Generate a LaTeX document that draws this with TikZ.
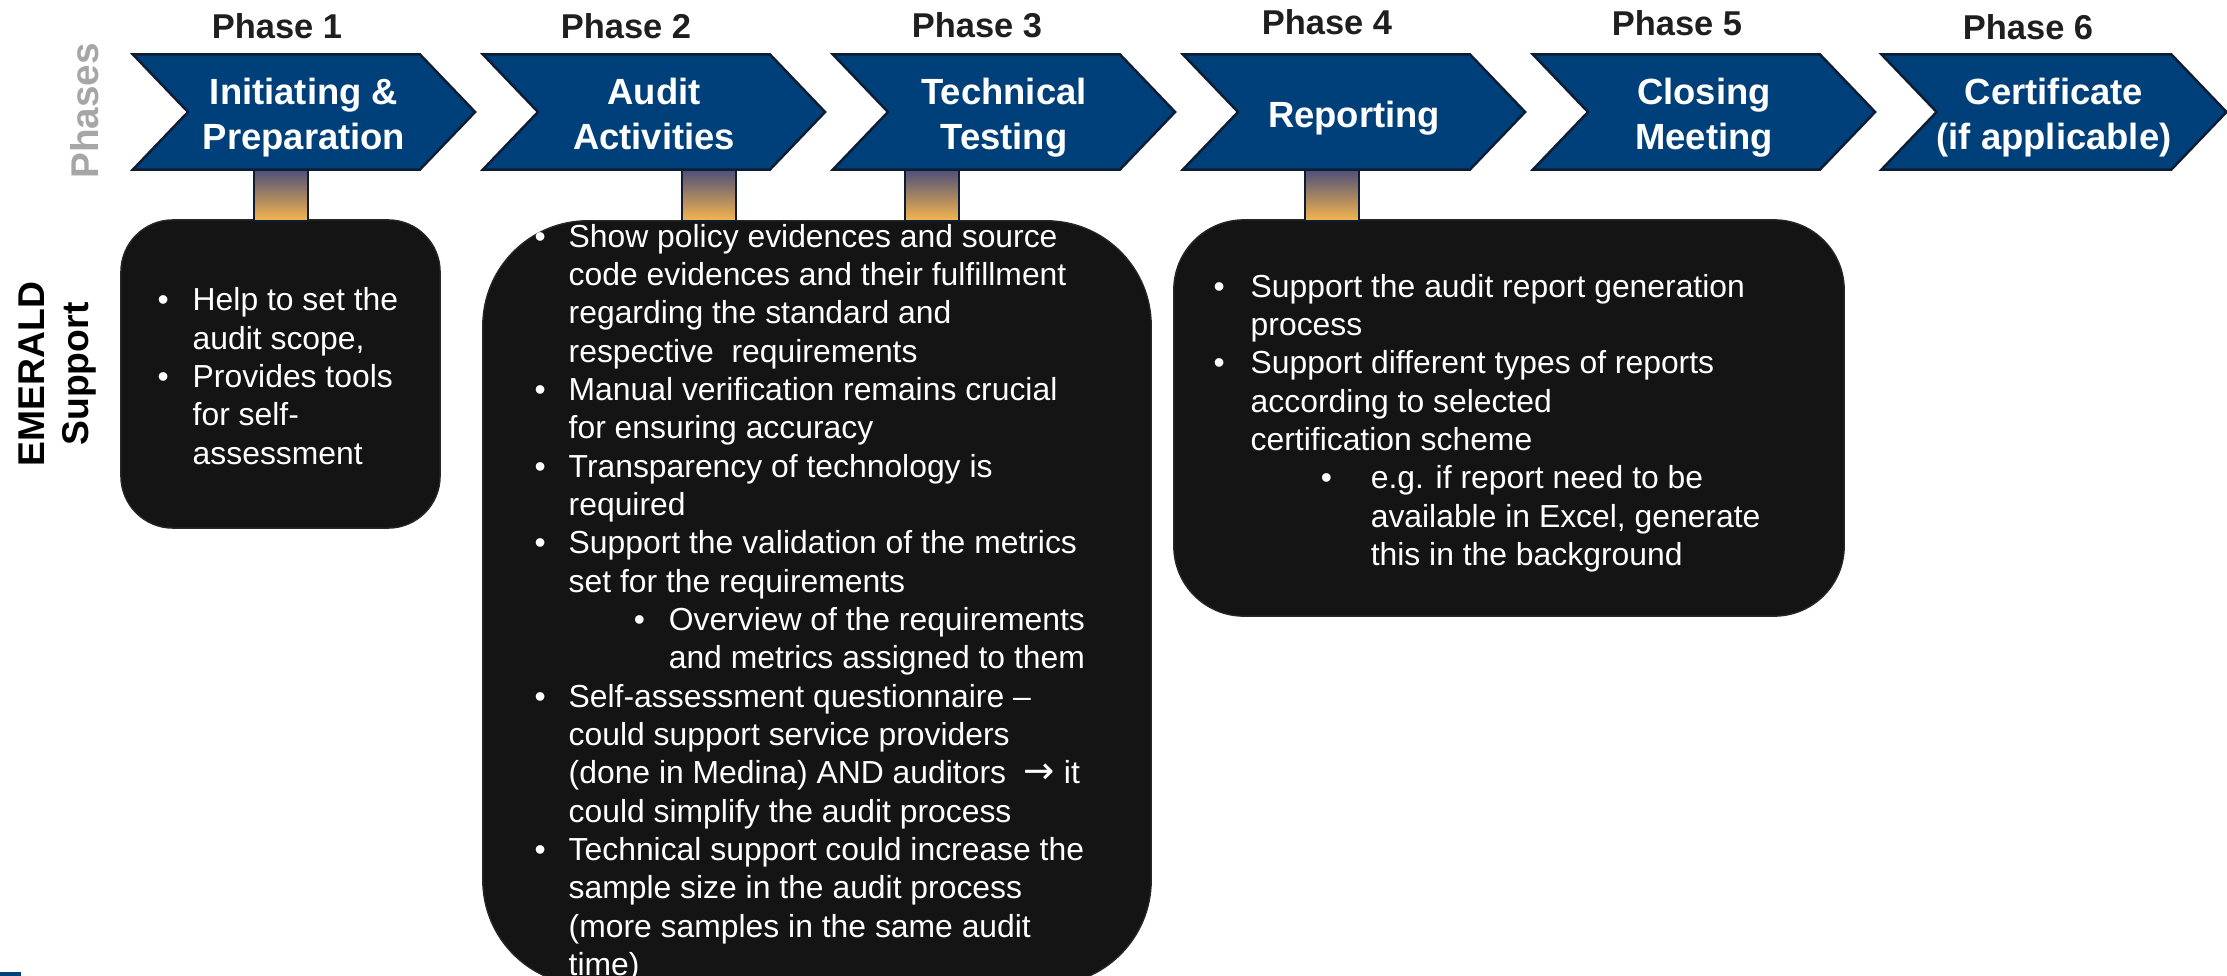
\documentclass[tikz,border=0pt]{standalone}
\usepackage{fontspec}
\setmainfont{Liberation Sans}
\newfontfamily\arrowfont{DejaVu Sans}
\usetikzlibrary{shapes.symbols,positioning}

\definecolor{phaseblue}{RGB}{0,64,122}
\definecolor{phaseedge}{RGB}{14,28,52}
\definecolor{poletop}{RGB}{76,78,122}
\definecolor{polebottom}{RGB}{246,182,78}
\definecolor{boxfill}{RGB}{20,20,20}
\definecolor{sidegray}{RGB}{166,166,166}

\newcommand{\bul}[1]{\makebox[#1][l]{\textbullet}}

\begin{document}
\begin{tikzpicture}
        [
            x = 0.01cm, y = -0.01cm,
            phase/.style = {signal, signal to = east, signal from = west, signal pointer angle = 92.5,
                    minimum width = 3.42cm, minimum height = 1.15cm, inner sep = 0pt,
                    fill = phaseblue, draw = phaseedge, line width = 0.7pt,
                    text = white, align = center,
                    execute at begin node = \rule{0pt}{#1},
                    execute at end node = \rule[-2.4pt]{0pt}{2.4pt},
                    font = \fontsize{10.36pt}{12.8pt}\selectfont\bfseries},
            phase/.default = 23.9pt,
            phaselabel/.style = {font = \fontsize{9.8pt}{11pt}\selectfont\bfseries, text = black!88},
            pole/.style = {rectangle, minimum width = 0.54cm, minimum height = 0.52cm, inner sep = 0pt,
                    top color = poletop, bottom color = polebottom, draw = phaseedge, line width = 0.6pt},
            supportbox/.style = {rectangle, rounded corners = #1, fill = boxfill, draw = black!85,
                    line width = 0.4pt, inner sep = 0pt},
            supporttext/.style = {text = white, align = left, inner sep = 0pt, anchor = north west,
                    font = \fontsize{9.06pt}{10.9pt}\selectfont},
            sidelabel/.style = {rotate = 90, align = center, inner sep = 0pt,
                    font = \fontsize{10.6pt}{12.5pt}\selectfont\bfseries},
        ]

        \useasboundingbox (0,0) rectangle (2227,976);

        % support boxes
        \node[supportbox = 0.52cm, minimum width = 3.19cm, minimum height = 3.08cm] (box1) at (280.5,374) {};
        \node[supportbox = 1.05cm, minimum width = 6.68cm, minimum height = 7.64cm] (box2) at (817,603) {};
        \node[supportbox = 0.70cm, minimum width = 6.70cm, minimum height = 3.96cm] (box3) at (1509,418) {};

        % poles
        \node[pole] (pole1) at (281,195) {};
        \node[pole] (pole2) at (709,195) {};
        \node[pole] (pole3) at (932,195) {};
        \node[pole] (pole4) at (1332,195) {};

        % phases
        \node[phase] (ch1) at (304,112) {Initiating \&\\Preparation};
        \node[phase] (ch2) at (654,112) {Audit\\Activities};
        \node[phase] (ch3) at (1004,112) {Technical\\Testing};
        \node[phase = 11pt] (ch4) at (1354,112) {Reporting};
        \node[phase] (ch5) at (1704,112) {Closing\\Meeting};
        \node[phase] (ch6) at (2054,112) {Certificate\\(if applicable)};

        \node[phaselabel] (lab1) at (277,26) {Phase 1};
        \node[phaselabel] (lab2) at (626,26) {Phase 2};
        \node[phaselabel] (lab3) at (977,25) {Phase 3};
        \node[phaselabel] (lab4) at (1327,22) {Phase 4};
        \node[phaselabel] (lab5) at (1677,23) {Phase 5};
        \node[phaselabel] (lab6) at (2028,27) {Phase 6};

        % row titles
        \node[sidelabel, text = sidegray, font = \fontsize{11pt}{12.5pt}\selectfont\bfseries] (rowphases) at (85,111) {Phases};
        \node[sidelabel] (rowsupport) at (58,374) {EMERALD\\Support};

        % box texts
        \node[supporttext] (text1) at (157,287) {%
            \bul{0.35cm}Help to set the\\
            \hspace*{0.35cm}audit scope,\\
            \bul{0.35cm}Provides tools\\
            \hspace*{0.35cm}for self-\\
            \hspace*{0.35cm}assessment};
        \node[supporttext] (text2) at (534,223.5) {%
            \bul{0.34cm}Show policy evidences and source\\
            \hspace*{0.34cm}code evidences and their fulfillment\\
            \hspace*{0.34cm}regarding the standard and\\
            \hspace*{0.34cm}respective~ requirements\\
            \bul{0.34cm}Manual verification remains crucial\\
            \hspace*{0.34cm}for ensuring accuracy\\
            \bul{0.34cm}Transparency of technology is\\
            \hspace*{0.34cm}required\\
            \bul{0.34cm}Support the validation of the metrics\\
            \hspace*{0.34cm}set for the requirements\\
            \hspace*{0.99cm}\bul{0.35cm}Overview of the requirements\\
            \hspace*{1.34cm}and metrics assigned to them\\
            \bul{0.34cm}Self-assessment questionnaire --\\
            \hspace*{0.34cm}could support service providers\\
            \hspace*{0.34cm}(done in Medina) AND auditors~ {\arrowfont\fontsize{10.6pt}{10.9pt}\selectfont →} it\\
            \hspace*{0.34cm}could simplify the audit process\\
            \bul{0.34cm}Technical support could increase the\\
            \hspace*{0.34cm}sample size in the audit process\\
            \hspace*{0.34cm}(more samples in the same audit\\
            \hspace*{0.34cm}time)};
        \node[supporttext] (text3) at (1213,273.5) {%
            \bul{0.37cm}Support the audit report generation\\
            \hspace*{0.37cm}process\\
            \bul{0.37cm}Support different types of reports\\
            \hspace*{0.37cm}according to selected\\
            \hspace*{0.37cm}certification scheme\\
            \hspace*{1.07cm}\bul{0.50cm}e.g. if report need to be\\
            \hspace*{1.57cm}available in Excel, generate\\
            \hspace*{1.57cm}this in the background};

        % corner mark
        \fill[phaseblue] (0,972) rectangle (21,976);

    \end{tikzpicture}
\end{document}
